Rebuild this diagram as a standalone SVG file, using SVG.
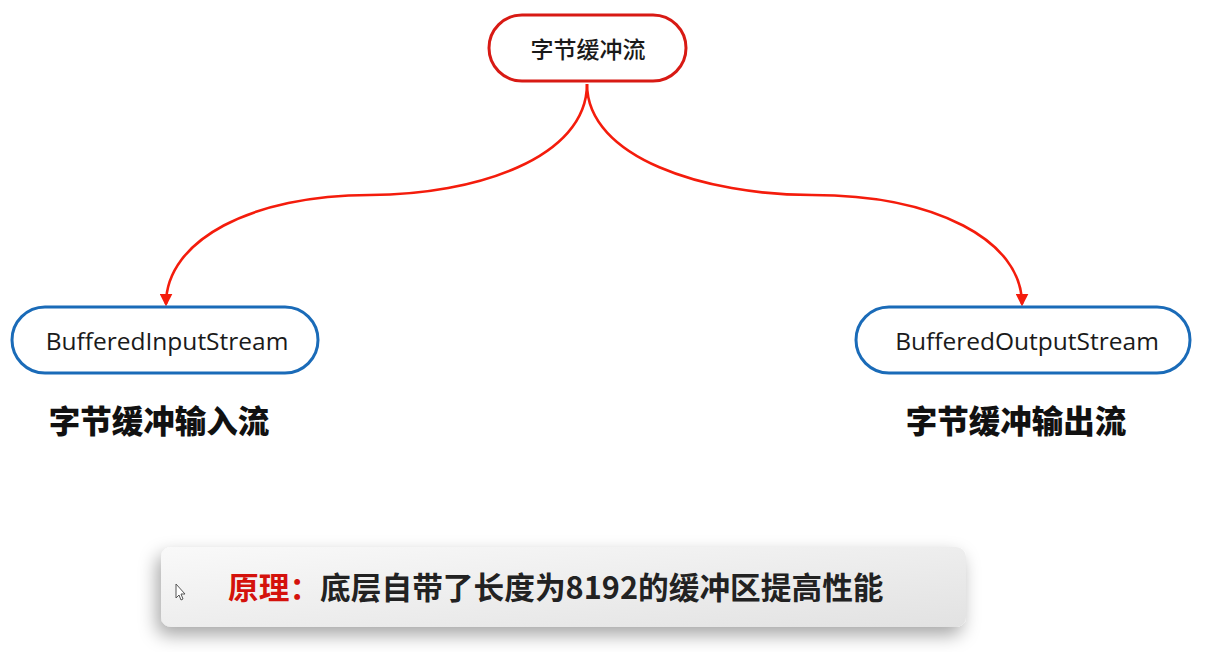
<svg xmlns="http://www.w3.org/2000/svg" width="1209" height="652" viewBox="0 0 1209 652">
  <style>
    .node-red { fill: #ffffff; stroke: #d81a14; stroke-width: 3; }
    .node-blue { fill: #ffffff; stroke: #1a6bb8; stroke-width: 3; }
    .node-text { font-family: "Open Sans", "Noto Sans CJK SC", sans-serif; font-size: 24.5px; fill: #1a1a1a; text-anchor: middle; dominant-baseline: central; }
    .cn-top { font-family: "Noto Sans CJK SC", sans-serif; font-size: 23px; font-weight: 500; fill: #1a1a1a; text-anchor: middle; dominant-baseline: central; }
    .cn-label { font-family: "Noto Sans CJK SC", sans-serif; font-size: 31.5px; font-weight: 900; fill: #111111; text-anchor: middle; dominant-baseline: central; }
    .conn { fill: none; stroke: #f41c0c; stroke-width: 2.6; }
    .note { font-family: "Noto Sans CJK SC", sans-serif; font-size: 30.7px; font-weight: 700; fill: #222222; dominant-baseline: central; }
    .note-key { fill: #d4120c; }
  </style>
  <defs>
    <marker id="arrow" viewBox="0 0 10 10" refX="8" refY="5" markerWidth="5" markerHeight="5" orient="auto-start-reverse" markerUnits="strokeWidth">
      <path d="M0,0 L10,5 L0,10 z" fill="#f41c0c"/>
    </marker>
    <linearGradient id="noteFill" x1="0" y1="0" x2="1" y2="1">
      <stop offset="0" stop-color="#f9f9f9"/>
      <stop offset="1" stop-color="#e2e2e2"/>
    </linearGradient>
    <filter id="shadow" x="-10%" y="-50%" width="120%" height="200%">
      <feDropShadow dx="-4" dy="8" stdDeviation="9" flood-color="#000000" flood-opacity="0.35"/>
    </filter>
  </defs>
  <rect width="1209" height="652" fill="#ffffff"/>

  <g id="connectors">
    <path class="conn" d="M587,84 C587,158 475,195 370,195 C252,195 166,240 166,304" marker-end="url(#arrow)"/>
    <path class="conn" d="M587,84 C587,158 705,195 812,195 C935,195 1022,240 1022,304" marker-end="url(#arrow)"/>
  </g>

  <g id="node-byte-buffer">
    <rect class="node-red" x="489" y="15" width="197" height="66" rx="33" ry="33"/>
    <text class="cn-top" x="588" y="48">字节缓冲流</text>
  </g>

  <g id="node-buffered-input">
    <rect class="node-blue" x="12" y="307" width="306" height="66" rx="33" ry="33"/>
    <text class="node-text" x="167" y="340">BufferedInputStream</text>
  </g>

  <g id="node-buffered-output">
    <rect class="node-blue" x="856" y="307" width="334" height="66" rx="33" ry="33"/>
    <text class="node-text" x="1027" y="340">BufferedOutputStream</text>
  </g>

  <g id="label-input">
    <text class="cn-label" x="159" y="419">字节缓冲输入流</text>
  </g>

  <g id="label-output">
    <text class="cn-label" x="1016" y="419">字节缓冲输出流</text>
  </g>

  <g id="note">
    <rect x="161" y="547" width="805" height="80" rx="10" ry="10" fill="url(#noteFill)" filter="url(#shadow)"/>
    <text class="note" x="228" y="585"><tspan class="note-key">原理：</tspan>底层自带了长度为8192的缓冲区提高性能</text>
    <path d="M176,584 L176,598 L179,595 L181,600 L183,599 L181,594 L185,594 Z" fill="#ffffff" stroke="#555555" stroke-width="1"/>
  </g>
</svg>
